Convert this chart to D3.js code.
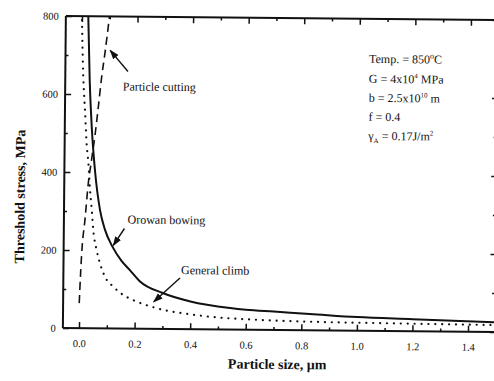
<!DOCTYPE html>
<html><head><meta charset="utf-8">
<script src="https://cdn.jsdelivr.net/npm/d3@7"></script>
<style>body{margin:0;background:#fff}svg{display:block}text{font-family:"Liberation Serif","Times New Roman",serif;fill:#111}</style>
</head><body>
<svg id="c" width="494" height="381"></svg>
<script>
// Particle size (µm) and threshold stress (MPa)
const orowanSize   = [0.0227,0.030,0.040,0.052,0.0716,0.090,0.118,0.150,0.181,0.218,0.300,0.400,0.543,0.600,0.700,0.830,1.000,1.200,1.500];
const orowanStress = [800,   635,  505,  405,  303,   253,  209,  174,  150,  121,  92,   71,   55,   51,   47,   42,   35,   31,   25];
const climbSize    = [0.0,0.0068,0.014,0.021,0.028,0.035,0.042,0.048,0.061,0.073,0.092,0.122,0.158,0.194,0.273,0.423,0.662,0.831,1.100,1.500];
const climbStress  = [790,645,   559,  475,  424,  354,  303,  252,  200,  167,  132,  107,  86,   73,   54,   36,   25,   22,   20,   18];
const cutSize      = [0.0, 0.0015,0.007,0.018,0.028,0.040,0.051,0.062,0.073,0.084,0.099];
const cutStress    = [64,  95,    190,  280,  368,  435,  495,  568,  645,  706,  800];
const xTicks = [0.0,0.2,0.4,0.6,0.8,1.0,1.2,1.4];
const xTickLabels = ["0.0","0.2","0.4","0.6","0.8","1.0","1.2","1.4"];
const yTicks = [0,200,400,600,800];
const yTickLabels = ["0","200","400","600","800"];
const xMinor = [0.1,0.3,0.5,0.7,0.9,1.1,1.3];
const yMinor = [100,300,500,700];
const xMin = -0.058, xMax = 1.5;

const svg = d3.select("#c");
const root = svg.append("g").attr("transform","rotate(0.55,280,172)");
const x = d3.scaleLinear().domain([0,1.4]).range([80.5,469.5]);
const y = d3.scaleLinear().domain([0,800]).range([330,18]);
const X0 = x(xMin), X1 = x(xMax);

const defs = svg.append("defs");
defs.append("clipPath").attr("id","clip").append("rect")
  .attr("x",X0).attr("y",y(800)).attr("width",X1-X0).attr("height",y(0)-y(800));

const ink = "#111";
function ax(gen, tx, ty, ticks, size, labels){
  const g = root.append("g").attr("transform",`translate(${tx},${ty})`)
    .call(gen.tickValues(ticks).tickSize(size).tickSizeOuter(0).tickFormat((d,i)=>labels?labels[i]:""));
  g.select(".domain").remove();
  g.selectAll(".tick line").attr("stroke",ink).attr("stroke-width",1.5);
  return g;
}
const frame = root.append("g").attr("fill","none").attr("stroke",ink).attr("stroke-width",2);
frame.append("line").attr("x1",X0).attr("x2",X1).attr("y1",y(0)).attr("y2",y(0));
frame.append("line").attr("x1",X0).attr("x2",X1).attr("y1",y(800)).attr("y2",y(800));
frame.append("line").attr("x1",X0).attr("x2",X0).attr("y1",y(800)).attr("y2",y(0));

// bottom: ticks point up
const bx = ax(d3.axisBottom(x), 0, y(0), xTicks, -6, xTickLabels);
bx.selectAll("text").attr("font-size",10.5).attr("fill","#222").attr("y",19).attr("dy",0);
ax(d3.axisBottom(x), 0, y(0), xMinor, -3, null);
// top: ticks point down
ax(d3.axisTop(x), 0, y(800), xTicks, -6, null);
ax(d3.axisTop(x), 0, y(800), xMinor, -3, null);
// left: ticks point right
const ly = ax(d3.axisLeft(y), X0, 0, yTicks, -6, yTickLabels);
ly.selectAll("text").attr("font-size",10.5).attr("fill","#222").attr("x",-7);
ax(d3.axisLeft(y), X0, 0, yMinor, -3, null);
// right: ticks point left
ax(d3.axisRight(y), X1, 0, yTicks, -6, null);
ax(d3.axisRight(y), X1, 0, yMinor, -4, null);

// curves
const plot = root.append("g").attr("clip-path","url(#clip)");
const line = d3.line().x(d=>x(d[0])).y(d=>y(d[1])).curve(d3.curveMonotoneX);
plot.append("path").datum(orowanSize.map((d,i)=>[d,orowanStress[i]]))
  .attr("d",line).attr("fill","none").attr("stroke",ink).attr("stroke-width",2);
plot.append("path").datum(climbSize.map((d,i)=>[d,climbStress[i]]))
  .attr("d",line).attr("fill","none").attr("stroke",ink).attr("stroke-width",2.2)
  .attr("stroke-dasharray","0.1,6.8").attr("stroke-linecap","round");
plot.append("path").datum(cutSize.map((d,i)=>[d,cutStress[i]]))
  .attr("d",line).attr("fill","none").attr("stroke",ink).attr("stroke-width",1.6)
  .attr("stroke-dasharray","8,5");

// annotations with arrows
defs.append("marker").attr("id","ah").attr("viewBox","0 0 10 10").attr("refX",9).attr("refY",5)
  .attr("markerWidth",7).attr("markerHeight",7).attr("orient","auto")
  .append("path").attr("d","M0,1.5L10,5L0,8.5z").attr("fill",ink);
function note(txt, tx, ty, x1, y1, x2, y2){
  root.append("text").attr("x",tx).attr("y",ty).attr("font-size",12).text(txt);
  root.append("line").attr("x1",x1).attr("y1",y1).attr("x2",x2).attr("y2",y2)
    .attr("stroke",ink).attr("stroke-width",1.4).attr("marker-end","url(#ah)");
}
note("Particle cutting", 122, 92, 127, 73, 109, 52);
note("Orowan bowing", 128, 225, 125, 230, 114, 247);
note("General climb", 182, 275, 181, 279, 155, 303);

// parameter block
const t1 = root.append("text").attr("x",368).attr("y",62).attr("font-size",12);
t1.append("tspan").text("Temp. = 850");
t1.append("tspan").attr("dy",-5).attr("font-size",8).text("o");
t1.append("tspan").attr("dy",5).text("C");
const t2 = root.append("text").attr("x",368).attr("y",82).attr("font-size",12);
t2.append("tspan").text("G = 4x10");
t2.append("tspan").attr("dy",-5).attr("font-size",7).text("4");
t2.append("tspan").attr("dy",5).text(" MPa");
const t3 = root.append("text").attr("x",368).attr("y",101).attr("font-size",12);
t3.append("tspan").text("b = 2.5x10");
t3.append("tspan").attr("dy",-5).attr("font-size",7).text("10");
t3.append("tspan").attr("dy",5).text(" m");
root.append("text").attr("x",368).attr("y",120).attr("font-size",12).text("f = 0.4");
const t5 = root.append("text").attr("x",368).attr("y",139).attr("font-size",12);
t5.append("tspan").text("γ");
t5.append("tspan").attr("dy",3).attr("font-size",7).text("A");
t5.append("tspan").attr("dy",-3).text(" = 0.17J/m");
t5.append("tspan").attr("dy",-5).attr("font-size",7).text("2");

// axis titles
root.append("text").attr("x",279).attr("y",369).attr("text-anchor","middle")
  .attr("font-size",14).attr("font-weight","bold").text("Particle size,  μm");
root.append("text").attr("transform","translate(25,199) rotate(-90)").attr("text-anchor","middle")
  .attr("font-size",14).attr("font-weight","bold").text("Threshold stress, MPa");
</script>
</body></html>
